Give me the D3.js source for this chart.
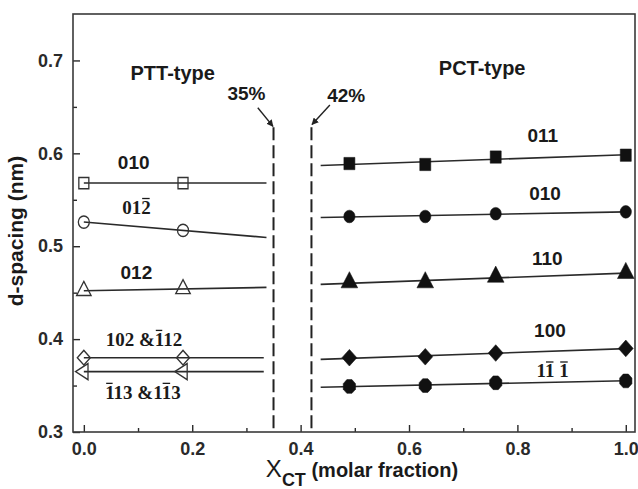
<!DOCTYPE html>
<html>
<head>
<meta charset="utf-8">
<script src="https://cdn.jsdelivr.net/npm/d3@7"></script>
<style>
  html, body { margin: 0; padding: 0; background: #fff; }
  svg text { font-family: "Liberation Sans", Arial, sans-serif; }
</style>
</head>
<body>
<svg id="chart" width="638" height="489"></svg>
<script>
// x values (molar fraction of CT)
var pttX = [0, 0.183];
var pctX = [0.49, 0.63, 0.76, 1.0];

// PTT-type reflections (d-spacing, nm)
var ptt010 = [0.568, 0.568];
var ptt01b2 = [0.526, 0.517];
var ptt012 = [0.452, 0.454];
var ptt102 = [0.380, 0.380];
var ptt113 = [0.365, 0.365];

// PCT-type reflections (d-spacing, nm)
var pct011 = [0.589, 0.588, 0.596, 0.598];
var pct010 = [0.532, 0.532, 0.535, 0.537];
var pct110 = [0.461, 0.461, 0.467, 0.471];
var pct100 = [0.380, 0.381, 0.385, 0.390];
var pct111 = [0.349, 0.350, 0.353, 0.355];

// boundaries between the two crystal types
var boundaryX = [0.35, 0.42];
var boundaryLabels = ['35%', '42%'];
var boundaryTop = 0.628;

var xMajor = [0, 0.2, 0.4, 0.6, 0.8, 1.0];
var xMinor = [0.1, 0.3, 0.5, 0.7, 0.9];
var yMajor = [0.3, 0.4, 0.5, 0.6, 0.7];
var yMinor = [0.35, 0.45, 0.55, 0.65];

var svg = d3.select('#chart');
var plotL = 73, plotR = 635, plotT = 14, plotB = 432;

var x = d3.scaleLinear().domain([-0.02, 1.017]).range([plotL, plotR]);
var y = d3.scaleLinear().domain([0.3, 0.75]).range([plotB, plotT]);

// octagon for the 1-1-1 markers
var symbolOctagon = {
  draw: function(context, size) {
    var r = Math.sqrt(size / 2.83);
    for (var i = 0; i < 8; i++) {
      var a = Math.PI / 8 + i * Math.PI / 4;
      if (i === 0) context.moveTo(r * Math.cos(a), r * Math.sin(a));
      else context.lineTo(r * Math.cos(a), r * Math.sin(a));
    }
    context.closePath();
  }
};

// axes
var axisColor = '#2a2a2a';
svg.append('g').attr('transform', 'translate(0,' + plotB + ')')
  .call(d3.axisBottom(x).tickValues(xMajor).tickSizeInner(-7).tickSizeOuter(0)
    .tickPadding(10).tickFormat(d3.format('.1f')));
svg.append('g').attr('transform', 'translate(0,' + plotB + ')')
  .call(d3.axisBottom(x).tickValues(xMinor).tickSizeInner(-4).tickSizeOuter(0).tickFormat(''));
svg.append('g').attr('transform', 'translate(' + plotL + ',0)')
  .call(d3.axisLeft(y).tickValues(yMajor).tickSizeInner(-7).tickSizeOuter(0)
    .tickPadding(10).tickFormat(d3.format('.1f')));
svg.append('g').attr('transform', 'translate(' + plotL + ',0)')
  .call(d3.axisLeft(y).tickValues(yMinor).tickSizeInner(-4).tickSizeOuter(0).tickFormat(''));

svg.selectAll('.domain').remove();
svg.selectAll('.tick line').attr('stroke', axisColor).attr('stroke-width', 1.4);
svg.selectAll('.tick text')
  .attr('fill', '#2a2a2a')
  .style('font-family', 'Liberation Sans, Arial, sans-serif')
  .style('font-weight', 'bold')
  .style('font-size', '18px');

svg.append('rect')
  .attr('x', plotL).attr('y', plotT)
  .attr('width', plotR - plotL).attr('height', plotB - plotT)
  .attr('fill', 'none').attr('stroke', '#3a3a3a').attr('stroke-width', 1.6);

// axis titles
svg.append('text')
  .attr('transform', 'translate(23,231) rotate(-90)')
  .attr('text-anchor', 'middle')
  .style('font-weight', 'bold')
  .style('font-size', '21px')
  .attr('fill', '#1a1a1a')
  .text('d-spacing (nm)');

var xTitle = svg.append('text')
  .attr('x', 362).attr('y', 477)
  .attr('text-anchor', 'middle')
  .attr('fill', '#1a1a1a');
xTitle.append('tspan').style('font-size', '24px').text('X');
xTitle.append('tspan').attr('dy', 9).style('font-size', '18px').style('font-weight', 'bold').text('CT');
xTitle.append('tspan').attr('dy', -9).style('font-size', '20px').style('font-weight', 'bold').text(' (molar fraction)');

// fitted line through a series, drawn between x0 and x1
function fitLine(xs, ys, x0, x1) {
  var mx = d3.mean(xs), my = d3.mean(ys);
  var sxx = d3.sum(xs, function(d) { return (d - mx) * (d - mx); });
  var sxy = d3.sum(xs, function(d, i) { return (d - mx) * (ys[i] - my); });
  var b = sxx ? sxy / sxx : 0;
  return [[x0, my + b * (x0 - mx)], [x1, my + b * (x1 - mx)]];
}

var line = d3.line().x(function(d) { return x(d[0]); }).y(function(d) { return y(d[1]); });

var series = [
  { xs: pttX, ys: ptt010, x0: 0, x1: 0.337, sym: d3.symbolSquare, size: 100, rot: 0, open: true },
  { xs: pttX, ys: ptt01b2, x0: 0, x1: 0.337, sym: d3.symbolCircle, size: 95, rot: 0, open: true },
  { xs: pttX, ys: ptt012, x0: 0, x1: 0.337, sym: d3.symbolTriangle, size: 90, rot: 0, open: true },
  { xs: pttX, ys: ptt102, x0: 0, x1: 0.332, sym: d3.symbolSquare, size: 85, rot: 45, open: true },
  { xs: pttX, ys: ptt113, x0: 0, x1: 0.332, sym: d3.symbolTriangle, size: 90, rot: -90, open: true },
  { xs: pctX, ys: pct011, x0: 0.437, x1: 1.0, sym: d3.symbolSquare, size: 121, rot: 0, open: false },
  { xs: pctX, ys: pct010, x0: 0.437, x1: 1.0, sym: d3.symbolCircle, size: 100, rot: 0, open: false },
  { xs: pctX, ys: pct110, x0: 0.437, x1: 1.0, sym: d3.symbolTriangle, size: 120, rot: 0, open: false },
  { xs: pctX, ys: pct100, x0: 0.437, x1: 1.0, sym: d3.symbolSquare, size: 110, rot: 45, open: false },
  { xs: pctX, ys: pct111, x0: 0.437, x1: 1.0, sym: symbolOctagon, size: 125, rot: 0, open: false }
];

series.forEach(function(s) {
  svg.append('path')
    .attr('d', line(fitLine(s.xs, s.ys, s.x0, s.x1)))
    .attr('fill', 'none').attr('stroke', '#2a2a2a').attr('stroke-width', 1.6);
  svg.selectAll(null)
    .data(s.xs.map(function(d, i) { return [d, s.ys[i]]; }))
    .enter()
    .append('path')
    .attr('d', d3.symbol().type(s.sym).size(s.size)())
    .attr('transform', function(d) {
      return 'translate(' + x(d[0]) + ',' + y(d[1]) + ') scale(1,1.12) rotate(' + s.rot + ')';
    })
    .attr('fill', s.open ? 'none' : '#111')
    .attr('stroke', s.open ? '#333' : '#111')
    .attr('stroke-width', s.open ? 1.3 : 0.5);
});

// type boundaries
var defs = svg.append('defs');
defs.append('marker')
  .attr('id', 'head').attr('viewBox', '0 0 10 10')
  .attr('refX', 9).attr('refY', 5)
  .attr('markerWidth', 7).attr('markerHeight', 7)
  .attr('markerUnits', 'userSpaceOnUse')
  .attr('orient', 'auto')
  .append('path').attr('d', 'M0,0 L10,5 L0,10 z').attr('fill', '#222');

boundaryX.forEach(function(bx) {
  svg.append('line')
    .attr('x1', x(bx)).attr('x2', x(bx))
    .attr('y1', y(boundaryTop)).attr('y2', plotB)
    .attr('stroke', '#222').attr('stroke-width', 2)
    .attr('stroke-dasharray', '13,5');
});

var arrows = [
  { from: [0.321, 0.649], to: [0.349, 0.629] },
  { from: [0.454, 0.652], to: [0.421, 0.631] }
];
arrows.forEach(function(a) {
  svg.append('line')
    .attr('x1', x(a.from[0])).attr('y1', y(a.from[1]))
    .attr('x2', x(a.to[0])).attr('y2', y(a.to[1]))
    .attr('stroke', '#222').attr('stroke-width', 1.4)
    .attr('marker-end', 'url(#head)');
});

// text annotations: [text, x, y, font, size, overlined char indices]
var sans = 'Liberation Sans, Arial, sans-serif';
var serif = 'Liberation Serif, Times New Roman, serif';
var notes = [
  ['PTT-type', 0.164, 0.679, sans, 20, []],
  ['PCT-type', 0.735, 0.684, sans, 20, []],
  [boundaryLabels[0], 0.300, 0.657, sans, 19, []],
  [boundaryLabels[1], 0.484, 0.655, sans, 19, []],
  ['010', 0.092, 0.583, sans, 19, []],
  ['012', 0.097, 0.535, serif, 19, [2]],
  ['012', 0.097, 0.465, sans, 19, []],
  ['102 &112', 0.111, 0.393, serif, 19, [5]],
  ['113 &113', 0.109, 0.336, serif, 19, [0, 6]],
  ['011', 0.847, 0.612, sans, 19, []],
  ['010', 0.851, 0.550, sans, 19, []],
  ['110', 0.855, 0.480, sans, 19, []],
  ['100', 0.860, 0.402, sans, 19, []],
  ['11 1', 0.865, 0.359, serif, 19, [1, 3]]
];

notes.forEach(function(n) {
  var t = svg.append('text')
    .attr('x', x(n[1])).attr('y', y(n[2]))
    .attr('text-anchor', 'middle')
    .attr('fill', '#1a1a1a')
    .style('font-family', n[3])
    .style('font-weight', 'bold')
    .style('font-size', n[4] + 'px')
    .text(n[0]);
  var node = t.node();
  n[5].forEach(function(ci) {
    var box = node.getExtentOfChar(ci);
    var by = y(n[2]) - 0.8 * n[4];
    svg.append('line')
      .attr('x1', box.x + 1).attr('x2', box.x + box.width - 1)
      .attr('y1', by).attr('y2', by)
      .attr('stroke', '#1a1a1a').attr('stroke-width', 1.3);
  });
});
</script>
</body>
</html>
